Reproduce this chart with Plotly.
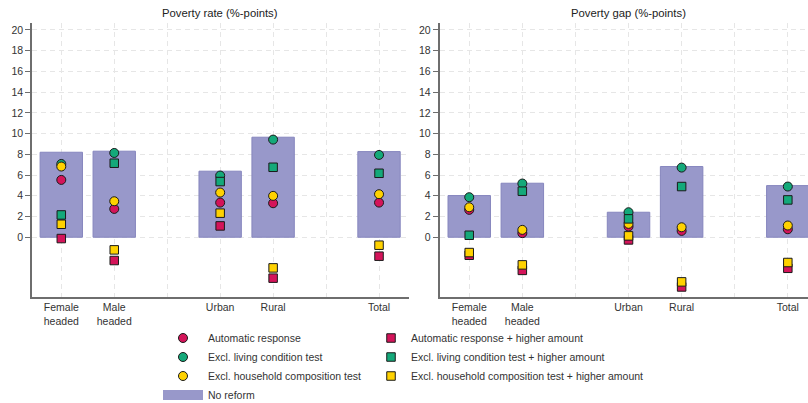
import plotly.graph_objects as go

W, H = 808, 403

# ---- data ----
positions = [1, 2, 4, 5, 7]
tick_positions = [1, 2, 3, 4, 5, 6, 7]
tick_labels = ["Female<br>headed", "Male<br>headed", "", "Urban", "Rural", "", "Total"]

# Poverty rate (%-points)
rate_no_reform = [8.2, 8.3, 6.37, 9.65, 8.26]
rate_auto = [5.53, 2.73, 3.34, 3.28, 3.34]
rate_excl_living = [7.07, 8.13, 5.95, 9.42, 7.94]
rate_excl_house = [6.82, 3.47, 4.31, 3.99, 4.15]
rate_auto_hi = [-0.13, -2.25, 1.09, -3.95, -1.83]
rate_excl_living_hi = [2.15, 7.14, 5.37, 6.75, 6.17]
rate_excl_house_hi = [1.25, -1.22, 2.32, -2.96, -0.77]

# Poverty gap (%-points)
gap_no_reform = [4.02, 5.21, 2.41, 6.82, 4.98]
gap_auto = [2.64, 0.39, 1.03, 0.61, 0.77]
gap_excl_living = [3.86, 5.18, 2.41, 6.72, 4.89]
gap_excl_house = [2.89, 0.71, 1.29, 0.96, 1.13]
gap_auto_hi = [-1.74, -3.2, -0.26, -4.8, -3.0]
gap_excl_living_hi = [0.19, 4.44, 1.77, 4.89, 3.6]
gap_excl_house_hi = [-1.48, -2.67, 0.13, -4.31, -2.44]

y_ticks = list(range(0, 21, 2))

# ---- styles ----
RED = "#D4145A"
GREEN = "#14A97A"
YELLOW = "#FFD200"
BAR = "#9898CA"
BAR_LINE = "#8686BE"
FONT = "Arial, Liberation Sans, sans-serif"
TXT = "#333333"
FS = 10.5


def xp(px):
    return px / W


def yp(py):
    return 1 - py / H


fig = go.Figure()

panels = [
    ("x", "y", rate_no_reform, rate_auto, rate_excl_living, rate_excl_house,
     rate_auto_hi, rate_excl_living_hi, rate_excl_house_hi, True),
    ("x2", "y2", gap_no_reform, gap_auto, gap_excl_living, gap_excl_house,
     gap_auto_hi, gap_excl_living_hi, gap_excl_house_hi, False),
]

for (xa, ya, nr, a, el, eh, ah, elh, ehh, show) in panels:
    fig.add_trace(go.Bar(x=positions, y=nr, xaxis=xa, yaxis=ya, width=0.8,
                         marker=dict(color=BAR, line=dict(color=BAR_LINE, width=1)),
                         name="No reform", showlegend=False))
    series = [
        ("Automatic response", a, RED, "circle", "legend"),
        ("Excl. living condition test", el, GREEN, "circle", "legend"),
        ("Excl. household composition test", eh, YELLOW, "circle", "legend"),
        ("Automatic response + higher amount", ah, RED, "square", "legend2"),
        ("Excl. living condition test + higher amount", elh, GREEN, "square", "legend2"),
        ("Excl. household composition test + higher amount", ehh, YELLOW, "square", "legend2"),
    ]
    for name, vals, col, sym, lg in series:
        fig.add_trace(go.Scatter(
            x=positions, y=vals, xaxis=xa, yaxis=ya, mode="markers", name=name,
            marker=dict(color=col, symbol=sym, size=9 if sym == "circle" else 8.5,
                        line=dict(color="#1a1a1a", width=1)),
            showlegend=show, legend=lg, legendgroup=name))

# legend entry for the bars
fig.add_trace(go.Scatter(x=[None], y=[None], mode="lines", name="No reform",
                         line=dict(color=BAR, width=12), legend="legend",
                         legendgroup="No reform", showlegend=True))

axis_common_x = dict(
    tickvals=tick_positions, ticktext=tick_labels, ticks="",
    showgrid=True, gridcolor="#E6E6E6", griddash="5px,4px", gridwidth=1,
    showline=True, linecolor="#6E6E6E", linewidth=1.5, zeroline=False,
    tickfont=dict(family=FONT, size=FS, color=TXT), fixedrange=True, automargin=False,
)
axis_common_y = dict(
    tickvals=y_ticks, ticks="outside", ticklen=5, tickcolor="#6E6E6E", tickwidth=1,
    showgrid=True, gridcolor="#E6E6E6", griddash="5px,4px", gridwidth=1,
    showline=True, linecolor="#6E6E6E", linewidth=1.5, zeroline=False,
    tickfont=dict(family=FONT, size=FS, color=TXT), range=[-5.74, 20.7],
    domain=[yp(296.7), yp(22.7)], fixedrange=True, automargin=False,
)

fig.update_layout(
    width=W, height=H, autosize=False,
    margin=dict(l=0, r=0, t=0, b=0, pad=0, autoexpand=False),
    paper_bgcolor="white", plot_bgcolor="white",
    font=dict(family=FONT, size=FS, color=TXT),
    xaxis=dict(domain=[xp(32), xp(409)], range=[0.447, 7.566], anchor="y", **axis_common_x),
    yaxis=dict(anchor="x", **axis_common_y),
    xaxis2=dict(domain=[xp(439.5), 1.0], range=[0.44, 7.38], anchor="y2", **axis_common_x),
    yaxis2=dict(anchor="x2", **axis_common_y),
    legend=dict(x=xp(158), y=yp(323.5), xanchor="left", yanchor="top", itemwidth=40,
                bgcolor="rgba(0,0,0,0)", tracegroupgap=0,
                font=dict(family=FONT, size=FS, color=TXT)),
    legend2=dict(x=xp(371), y=yp(323.5), xanchor="left", yanchor="top", itemwidth=30,
                 bgcolor="rgba(0,0,0,0)", tracegroupgap=0,
                 font=dict(family=FONT, size=FS, color=TXT)),
    showlegend=True,
    annotations=[
        dict(text="Poverty rate (%-points)", x=xp(220), y=yp(13), xref="paper", yref="paper",
             xanchor="center", yanchor="middle",
             showarrow=False, font=dict(family=FONT, size=11.3, color="#222222")),
        dict(text="Poverty gap (%-points)", x=xp(628), y=yp(13), xref="paper", yref="paper",
             xanchor="center", yanchor="middle",
             showarrow=False, font=dict(family=FONT, size=11.3, color="#222222")),
    ],
)

fig.write_html("out.html", config={"displayModeBar": False, "responsive": False},
               post_script="document.body.style.margin='0px';")
